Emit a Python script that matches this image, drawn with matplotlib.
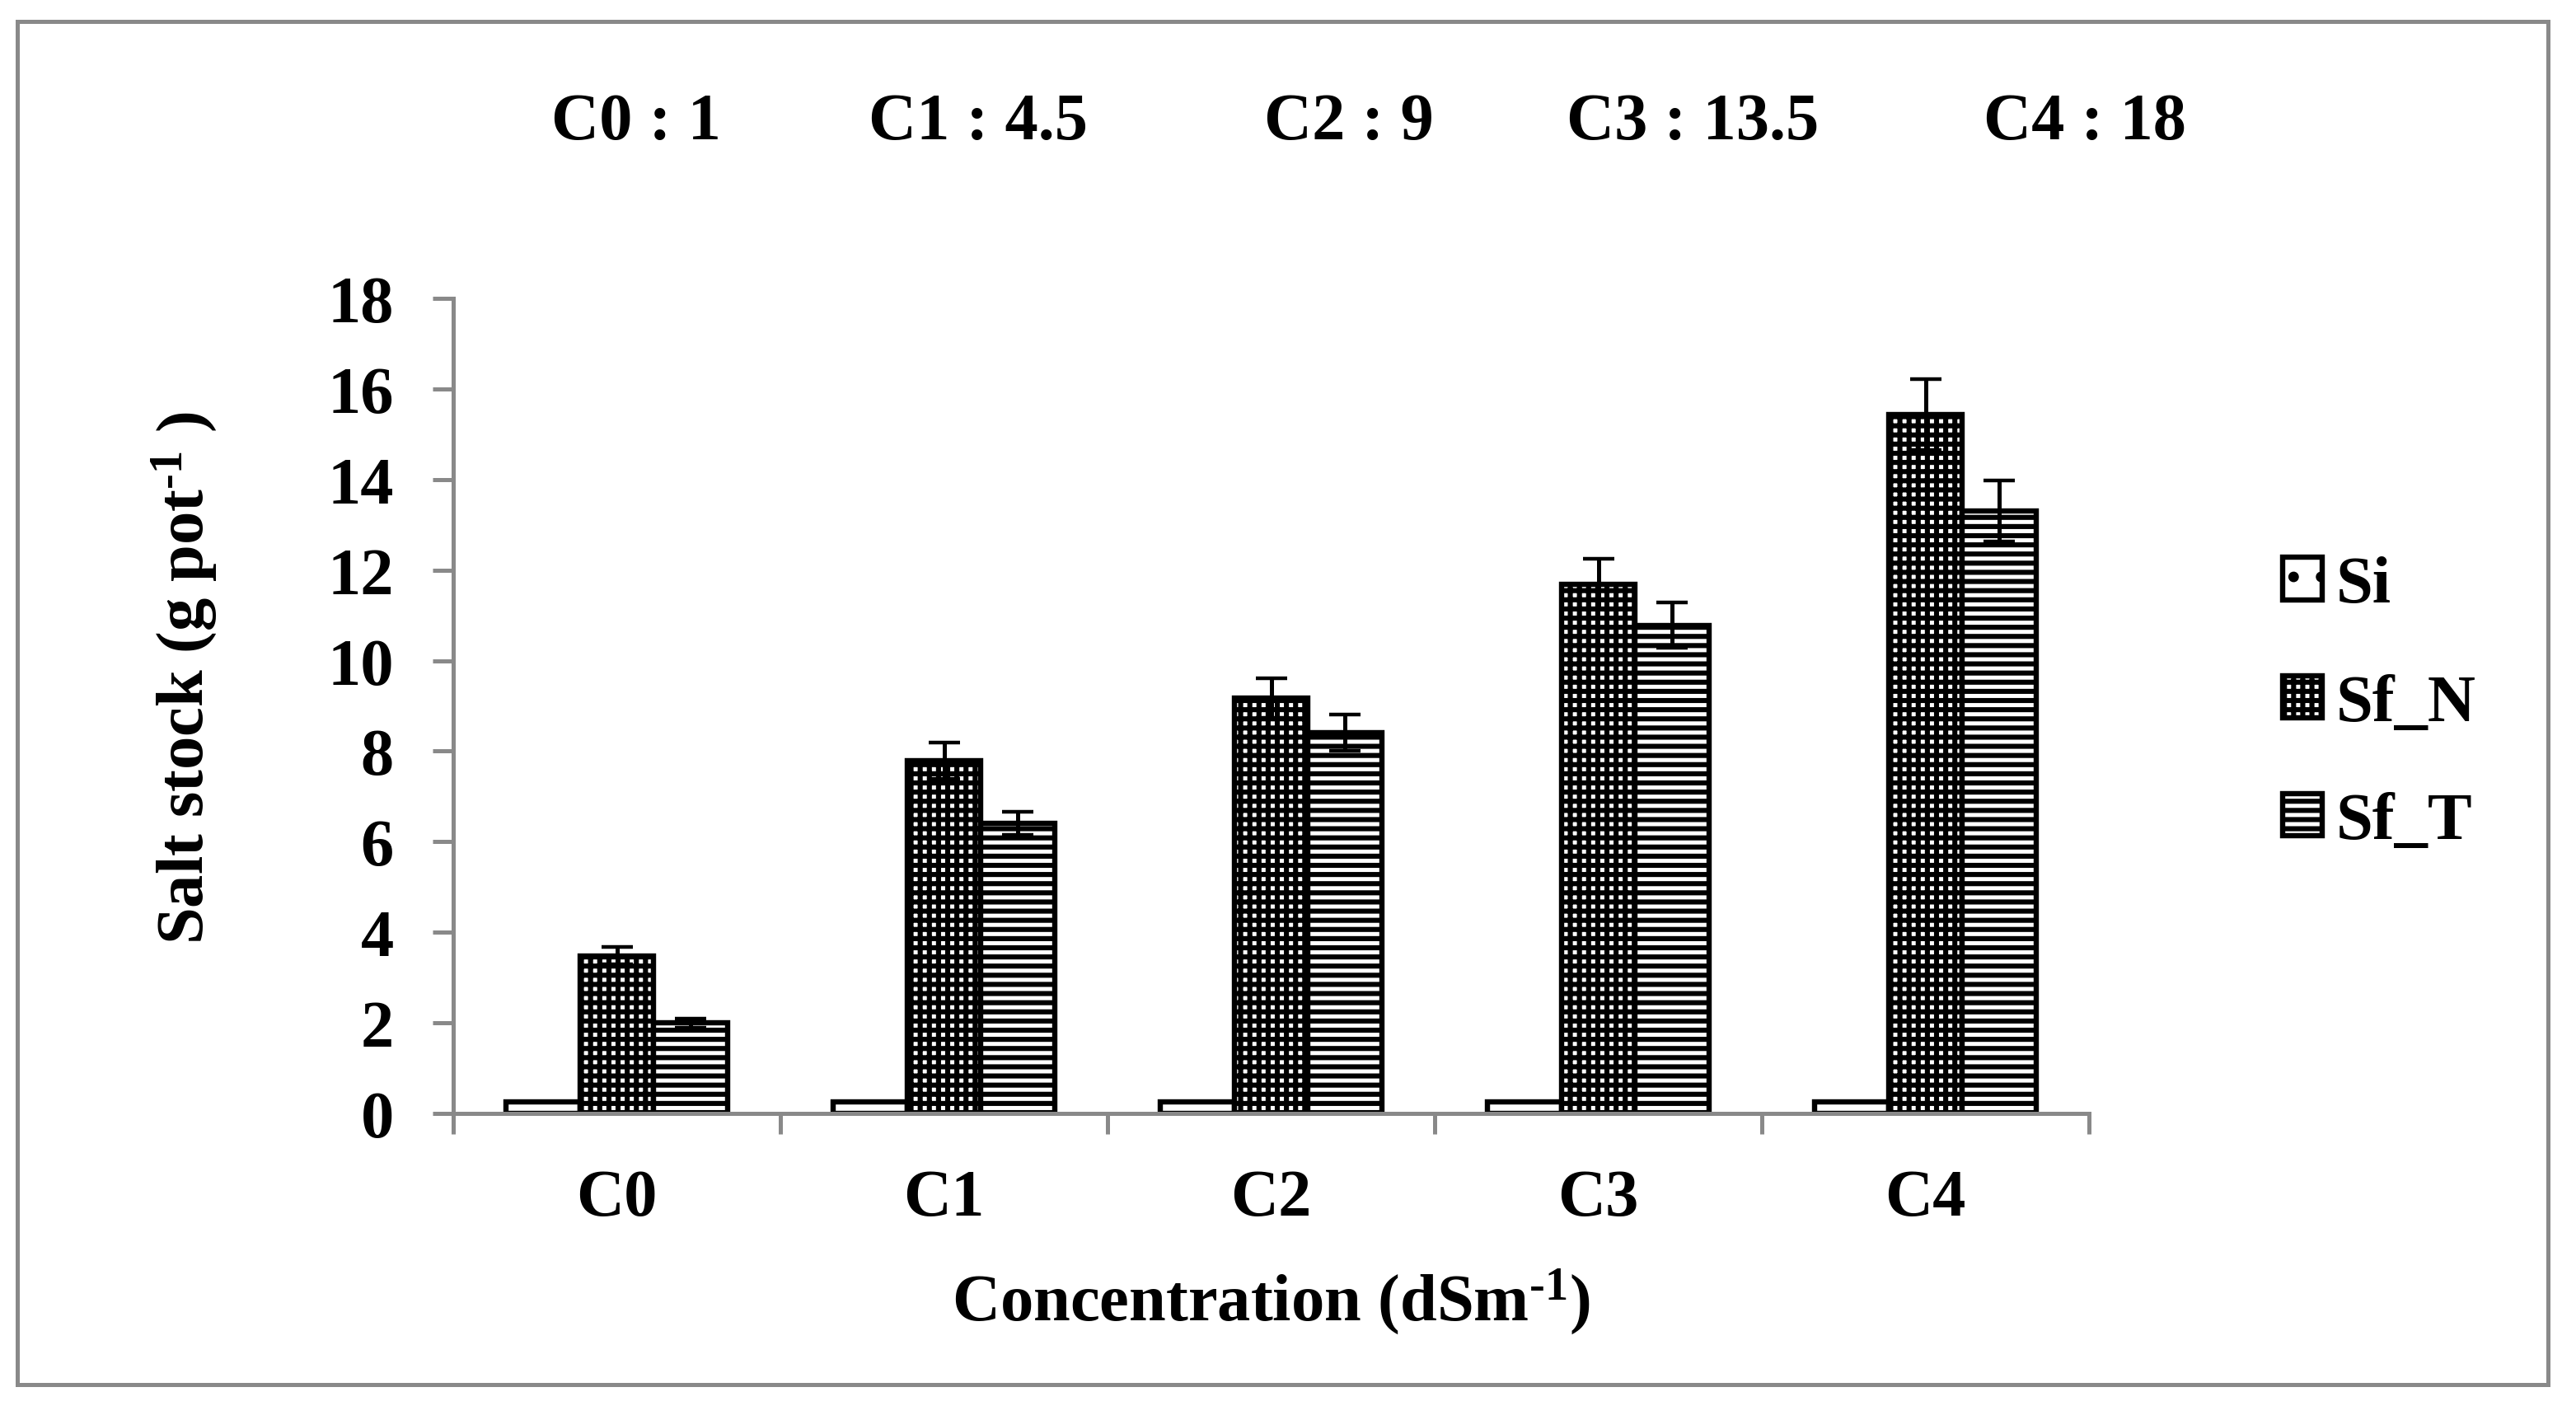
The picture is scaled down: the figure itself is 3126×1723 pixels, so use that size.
import numpy as np
import matplotlib
matplotlib.use("Agg")
import matplotlib.pyplot as plt
from matplotlib.patches import Rectangle

plt.rcParams['font.family'] = ['Liberation Serif', 'DejaVu Serif']
plt.rcParams['font.weight'] = 'bold'
plt.rcParams['mathtext.fontset'] = 'custom'
plt.rcParams['mathtext.rm'] = 'Liberation Serif:bold'
plt.rcParams['mathtext.bf'] = 'Liberation Serif:bold'
plt.rcParams['mathtext.default'] = 'rm'
plt.rcParams['hatch.linewidth'] = 2.2

# data
categories = ['C0', 'C1', 'C2', 'C3', 'C4']
series = ['Si', 'Sf_N', 'Sf_T']
si = [0.25, 0.25, 0.25, 0.25, 0.25]
sf_n = [3.48, 7.79, 9.17, 11.69, 15.43]
sf_t = [2.00, 6.41, 8.41, 10.78, 13.30]
si_err = [0, 0, 0, 0, 0]
sf_n_err = [0.19, 0.40, 0.44, 0.55, 0.78]
sf_t_err = [0.10, 0.25, 0.40, 0.50, 0.67]
top_labels = ['C0 : 1', 'C1 : 4.5', 'C2 : 9', 'C3 : 13.5', 'C4 : 18']
yticks = [0, 2, 4, 6, 8, 10, 12, 14, 16, 18]

gray = '#898989'
fs = 29

fig = plt.figure(figsize=(15.63, 8.62), dpi=200)
ax = fig.add_axes([550/3126, 1-1352/1724, 1985/3126, 989/1724])

x = np.arange(len(categories))
w = 0.2267
hatches = ['.', '+++', '---']
vals = [si, sf_n, sf_t]
errs = [si_err, sf_n_err, sf_t_err]
for i, (v, e, h, name) in enumerate(zip(vals, errs, hatches, series)):
    pos = x + (i - 1) * w
    ax.bar(pos, v, width=w, color='white', edgecolor='black', hatch=h,
           linewidth=2.3, label=name, zorder=1)
    if i > 0:
        ax.errorbar(pos, v, yerr=e, fmt='none', ecolor='black',
                    elinewidth=1.8, capsize=7, capthick=1.6, zorder=3)

ax.set_xlim(-0.5, 4.5)
ax.set_ylim(0, 18)
ax.set_yticks(yticks)
ax.set_xticks(np.arange(-0.5, 5, 1))
ax.set_xticklabels([])
ax.set_xticks(x, minor=True)
ax.set_xticklabels(categories, minor=True)
ax.tick_params(axis='x', which='minor', length=0, pad=24, labelsize=fs)
ax.tick_params(axis='x', which='major', length=9, width=1.8, color=gray, direction='out')
ax.tick_params(axis='y', length=9, width=1.8, color=gray, direction='out', pad=17, labelsize=fs)
for s in ['top', 'right']:
    ax.spines[s].set_visible(False)
for s in ['left', 'bottom']:
    ax.spines[s].set_color(gray)
    ax.spines[s].set_linewidth(1.8)

fig.text(1542/3126, 1-1580/1724, 'Concentration (dSm$^{\\text{-1}}$)', ha='center', va='center', fontsize=fs)
fig.text(224/3126, 1-822/1724, 'Salt stock (g pot$^{\\text{-1}}$ )', ha='center', va='center',
         rotation=90, fontsize=fs)

top_x = [772, 1187, 1637, 2054, 2530]
for tx, lab in zip(top_x, top_labels):
    fig.text(tx/3126, 1-150/1724, lab, ha='center', va='center', fontsize=fs)

ax.legend(loc='center left', bbox_to_anchor=(2770/3126, 1-855/1724),
          bbox_transform=fig.transFigure, frameon=False, fontsize=fs,
          handlelength=0.6, handleheight=0.6, handletextpad=0.2,
          labelspacing=0.87, borderpad=0, borderaxespad=0)

fig.patches.append(Rectangle((21/3126, 1-1681/1724), (3092-21)/3126, (1681-27)/1724,
                             transform=fig.transFigure, fill=False, edgecolor=gray,
                             linewidth=1.8))

fig.savefig('out.png', dpi=200)
